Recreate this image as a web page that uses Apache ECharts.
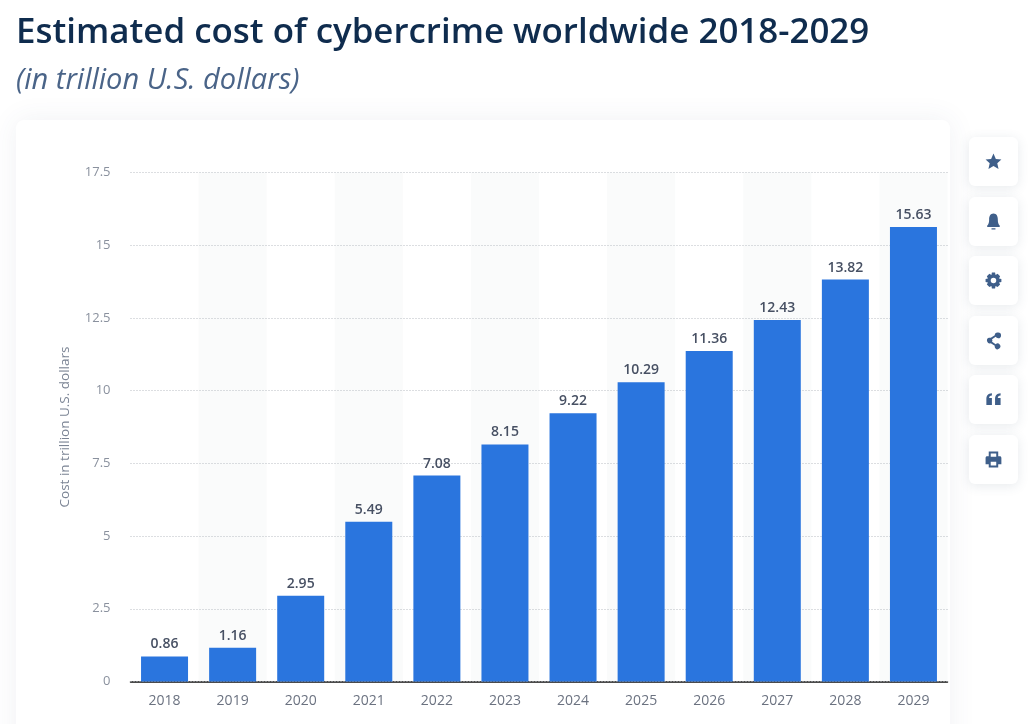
<!DOCTYPE html>
<html>
<head>
<meta charset="utf-8">
<title>Estimated cost of cybercrime worldwide 2018-2029</title>
<script src="https://cdn.jsdelivr.net/npm/echarts@6/dist/echarts.min.js"></script>
<style>
    html, body {margin: 0; padding: 0; background: #fff;}
    #main {width: 1029px; height: 724px;}
</style>
</head>
<body>
<div id="main"></div>
<script>
var years = ["2018", "2019", "2020", "2021", "2022", "2023", "2024", "2025", "2026", "2027", "2028", "2029"];
var costs = [0.86, 1.16, 2.95, 5.49, 7.08, 8.15, 9.22, 10.29, 11.36, 12.43, 13.82, 15.63];
var titleText = "Estimated cost of cybercrime worldwide 2018-2029";
var subtitleText = "(in trillion U.S. dollars)";
var yAxisName = "Cost in trillion U.S. dollars";

var fontName = "'Open Sans', sans-serif";
var iconColor = "#3f5f8a";

var icons = [
    "M12 2L15 9L22 9.6L16.8 14.3L18.4 21.5L12 17.7L5.6 21.5L7.2 14.3L2 9.6L9 9Z",
    "M12 2C8 2 6.5 5.5 6.5 9.5C6.5 13 6 15.5 4 17.5C3.5 18.2 4 19 4.8 19L19.2 19C20 19 20.5 18.2 20 17.5C18 15.5 17.5 13 17.5 9.5C17.5 5.5 16 2 12 2ZM9.5 20.5L14.5 20.5L14.5 22L9.5 22Z",
    "M10 2L14 2L14.6 5L17.2 3.6L20.4 6.8L19 9.4L22 10L22 14L19 14.6L20.4 17.2L17.2 20.4L14.6 19L14 22L10 22L9.4 19L6.8 20.4L3.6 17.2L5 14.6L2 14L2 10L5 9.4L3.6 6.8L6.8 3.6L9.4 5ZM12 8.5A3.5 3.5 0 1 0 12 15.5A3.5 3.5 0 1 0 12 8.5Z",
    "M18 2A3.6 3.6 0 1 1 14.8 7.3L10.2 10.3A3.6 3.6 0 0 1 10.2 13.7L14.8 16.7A3.6 3.6 0 1 1 13.6 18.6L8.6 15.4A3.6 3.6 0 1 1 8.6 8.6L13.6 5.4A3.6 3.6 0 0 1 18 2Z",
    "M3 11C3 7 5 4.5 10 4L10 7C7.5 7.3 6.5 8.4 6.5 10L10 10L10 19L3 19ZM14 11C14 7 16 4.5 21 4L21 7C18.5 7.3 17.5 8.4 17.5 10L21 10L21 19L14 19Z",
    "M6 2L18 2L18 8L20 8C21.2 8 22 8.8 22 10L22 18L18 18L18 22L6 22L6 18L2 18L2 10C2 8.8 2.8 8 4 8L6 8ZM8.5 4.5L8.5 8.5L15.5 8.5L15.5 4.5ZM8.5 15L8.5 19.5L15.5 19.5L15.5 15Z"
];
var buttonTops = [137, 197, 256, 316, 375, 435];

// the graphic component has no plain path type, so register the icons as shapes
icons.forEach(function (d, idx) {
    echarts.graphic.registerShape("icon" + idx, echarts.graphic.extendPath(d, {}));
});

var graphics = [
    // page heading
    {
        type: "text", x: 16, y: 16, silent: true,
        style: {text: titleText, fill: "#0f2c4e", font: "600 34.9px " + fontName}
    },
    {
        type: "text", x: 16, y: 66, silent: true,
        style: {text: subtitleText, fill: "#4a6488", font: "italic 400 29px " + fontName}
    },
    // card behind the chart
    {
        type: "rect", z: -10, silent: true,
        shape: {x: 16, y: 120, width: 934, height: 640, r: 8},
        style: {fill: "#fff", shadowBlur: 28, shadowColor: "rgba(60,80,110,0.08)"}
    }
];

buttonTops.forEach(function (top, idx) {
    graphics.push({
        type: "rect", z: -10, silent: true,
        shape: {x: 969, y: top, width: 49, height: 49, r: 6},
        style: {fill: "#fff", shadowBlur: 12, shadowOffsetY: 2, shadowColor: "rgba(60,80,110,0.12)"}
    });
    graphics.push({
        type: "icon" + idx, silent: true,
        x: 984, y: top + 15, scaleX: 0.79, scaleY: 0.79,
        style: {fill: iconColor}
    });
});

var chart = echarts.init(document.getElementById("main"));

var option = {
    backgroundColor: "#fff",
    animation: false,
    textStyle: {fontFamily: fontName},
    graphic: graphics,
    grid: {left: 130.5, right: 81.5, top: 172.5, bottom: 42.5},
    xAxis: {
        type: "category",
        z: 0,
        data: years,
        axisLine: {lineStyle: {color: "#111", width: 1.5}},
        axisTick: {show: false},
        axisLabel: {color: "#6b7280", fontSize: 14, margin: 13, fontFamily: fontName},
        splitArea: {show: true, interval: 0, areaStyle: {color: ["rgba(255,255,255,0)", "#fafbfb"]}}
    },
    yAxis: {
        type: "value",
        z: 1,
        min: 0,
        max: 17.5,
        interval: 2.5,
        name: yAxisName,
        nameLocation: "middle",
        nameGap: 58,
        nameTextStyle: {color: "#7b8494", fontSize: 13.5, fontFamily: fontName},
        axisLine: {show: false},
        axisTick: {show: false},
        axisLabel: {color: "#8a919e", fontSize: 13, margin: 20, fontFamily: fontName},
        splitLine: {lineStyle: {color: "#b8bcc2", type: [1, 2], width: 1}}
    },
    series: [
        {
            type: "bar",
            data: costs,
            barWidth: 47,
            itemStyle: {color: "#2a75de"},
            label: {
                show: true,
                position: "top",
                distance: 5,
                color: "#475063",
                fontSize: 14,
                fontWeight: 600,
                fontFamily: fontName,
                formatter: function (p) {
                    return p.value.toFixed(2);
                }
            }
        }
    ]
};

chart.setOption(option);
</script>
</body>
</html>
